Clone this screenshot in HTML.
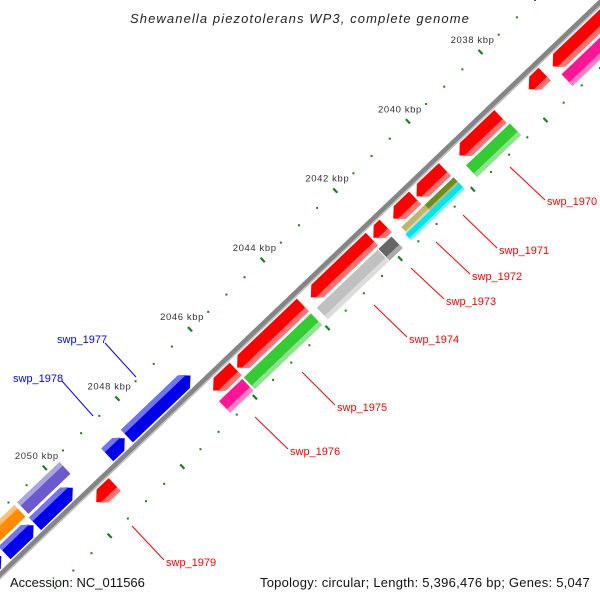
<!DOCTYPE html>
<html><head><meta charset="utf-8"><style>
html,body{margin:0;padding:0;background:#fff;overflow:hidden;width:600px;height:600px;}
svg{display:block;font-family:"Liberation Sans",sans-serif;overflow:hidden;}
</style></head><body>
<svg id="map" width="600" height="600" viewBox="0 0 600 600" xmlns="http://www.w3.org/2000/svg">
<defs><clipPath id="frame"><rect width="600" height="600"/></clipPath></defs>
<rect width="600" height="600" fill="#fff"/>
<g clip-path="url(#frame)">
<g id="ticks"></g>
<g id="backbone"></g>
<g id="features"></g>
<g id="labels"></g>
</g>
<text x="300" y="23" text-anchor="middle" font-size="13" font-style="italic" fill="#222" letter-spacing="1.1">Shewanella piezotolerans WP3, complete genome</text>
<text x="10" y="587" font-size="13" fill="#111">Accession: NC_011566</text>
<text x="590" y="587" text-anchor="end" font-size="13" fill="#111" letter-spacing="0.25">Topology: circular; Length: 5,396,476 bp; Genes: 5,047</text>
</svg>
<script>
// data (kbp)
const majorTicks = [2038, 2040, 2042, 2044, 2046, 2048, 2050];
const tickLabels = ["2038 kbp","2040 kbp","2042 kbp","2044 kbp","2046 kbp","2048 kbp","2050 kbp"];
const redStarts = [2035.0, 2037.38, 2038.60, 2040.13, 2040.95, 2041.76, 2042.14, 2044.04, 2045.89, 2049.22];
const redEnds   = [2037.16, 2037.82, 2039.73, 2040.91, 2041.55, 2042.10, 2043.82, 2045.85, 2046.51, 2049.73];
const innerStarts = [2035.0, 2038.56, 2041.82, 2042.20, 2044.04, 2045.93];
const innerEnds   = [2037.14, 2039.77, 2042.18, 2043.88, 2045.89, 2046.57];
const innerColors = ["#ff1493", "#33cc33", "#666666", "#c0c0c0", "#33cc33", "#ff1493"];
const splitTopStarts = [2040.11, 2040.91];
const splitTopEnds = [2040.91, 2041.55];
const splitTopColors = ["#6b8e23", "#bdb76b"];
const splitBotStarts = [2040.11];
const splitBotEnds = [2041.59];
const blueStarts = [2046.63, 2048.44, 2049.87, 2050.95, 2051.84];
const blueEnds   = [2048.38, 2048.92, 2050.91, 2051.75, 2052.60];
const outerStarts = [2049.71, 2050.95];
const outerEnds = [2050.87, 2051.94];
const outerColors = ["#6a5acd", "#ff8c00"];
const geneLabels = ["swp_1970","swp_1971","swp_1972","swp_1973","swp_1974","swp_1975","swp_1976","swp_1979","swp_1977","swp_1978"];

// geometry
const B0 = {x:513, y:86}, K0 = 2038, PX = 50.2;
const U = {x:-0.7234, y:0.6903}, N = {x:0.6903, y:0.7234};
function P(k, d){ const t=(k-K0)*PX; return [B0.x+U.x*t+N.x*d, B0.y+U.y*t+N.y*d]; }
const NS="http://www.w3.org/2000/svg";
function mk(tag, attrs, parent){ const e=document.createElementNS(NS,tag); for(const a in attrs) e.setAttribute(a,attrs[a]); parent.appendChild(e); return e; }
const pts = arr => arr.map(p=>p[0].toFixed(1)+","+p[1].toFixed(1)).join(" ");
function lighten(c){ const n=parseInt(c.slice(1),16); let r=n>>16,g=(n>>8)&255,b=n&255; r=Math.round(r+(255-r)*0.45); g=Math.round(g+(255-g)*0.45); b=Math.round(b+(255-b)*0.45); return "rgb("+r+","+g+","+b+")"; }

// ticks
const tg=document.getElementById('ticks');
for(let k=2035; k<=2053; k+=0.5){
  const major = Math.abs(k/2-Math.round(k/2))<1e-6;
  [-47,47].forEach(d=>{
    if(major){
      const a=P(k,d-3), b=P(k,d+3);
      const l=mk('line',{x1:a[0],y1:a[1],x2:b[0],y2:b[1],stroke:'#1a801a','stroke-width':2.2},tg);
      
      
    } else {
      const c=P(k,d);
      const r=mk('rect',{x:c[0]-1,y:c[1]-1,width:2,height:2,fill:'#1a801a'},tg);
      
      
    }
  });
}
majorTicks.forEach((k,i)=>{
  const c=P(k,-47);
  const t=mk('text',{x:c[0]-8,y:c[1]-9,'text-anchor':'middle','font-size':9.5,fill:'#333','letter-spacing':0.6},tg);
  t.textContent=tickLabels[i];
  
  
});

// backbone
const bg=document.getElementById('backbone');
const s=P(2034,0), e=P(2054,0), s2=P(2034,2.2), e2=P(2054,2.2);
const bl=mk('line',{x1:s[0],y1:s[1],x2:e[0],y2:e[1],stroke:'#858585','stroke-width':6},bg);


const bl2=mk('line',{x1:s2[0],y1:s2[1],x2:e2[0],y2:e2[1],stroke:'#c8c8c8','stroke-width':1.2},bg);



// features
const fg=document.getElementById('features');
const AH = 9/PX;
function feature(k1,k2,d1,d2,color,arrow,name){
  let poly;
  const ah=Math.min(AH,(k2-k1)*0.6);
  const dm=(d1+d2)/2;
  if(arrow===1) poly=[P(k1,d1),P(k2-ah,d1),P(k2,dm),P(k2-ah,d2),P(k1,d2)];
  else if(arrow===-1) poly=[P(k1+ah,d1),P(k2,d1),P(k2,d2),P(k1+ah,d2),P(k1,dm)];
  else poly=[P(k1,d1),P(k2,d1),P(k2,d2),P(k1,d2)];
  const g=mk('g',{},fg);
  
  
  mk('polygon',{points:pts(poly),fill:color},g);
  const far = d2>0 ? d2 : d1, sh = d2>0 ? d2-(d2-d1)*0.3 : d1+(d2-d1)*0.3;
  let strip;
  if(arrow===1) strip=[P(k1,sh),P(k2-ah*0.3,sh),P(k2-ah,far),P(k1,far)];
  else if(arrow===-1) strip=[P(k1+ah*0.3,sh),P(k2,sh),P(k2,far),P(k1+ah,far)];
  else strip=[P(k1,sh),P(k2,sh),P(k2,far),P(k1,far)];
  mk('polygon',{points:pts(strip),fill:lighten(color)},g);
}
redStarts.forEach((k,i)=>feature(k,redEnds[i],4.5,22,'#ff0000',1,'gene-red'));
innerStarts.forEach((k,i)=>feature(k,innerEnds[i],25,41,innerColors[i],0,'gene-inner'));
splitTopStarts.forEach((k,i)=>feature(k,splitTopEnds[i],25,33,splitTopColors[i],0,'gene-split-top'));
splitBotStarts.forEach((k,i)=>feature(k,splitBotEnds[i],33,41,'#00e5ee',0,'gene-split-bottom'));
blueStarts.forEach((k,i)=>feature(k,blueEnds[i],-22,-4.5,'#0000ee',-1,'gene-blue'));
outerStarts.forEach((k,i)=>feature(k,outerEnds[i],-41,-25,outerColors[i],0,'gene-outer'));

// labels
const lg=document.getElementById('labels');
const labelPos=[[547,205,'#f00',510,167,545,200],[499,254,'#f00',463,215,497,248],[472,280,'#f00',436,242,470,274],[446,305,'#f00',411,268,444,299],[409,343,'#f00',374,305,407,337],[337,411,'#f00',302,372,335,405],[290,455,'#f00',255,417,288,449],[166,566,'#f00',132,526,164,560],[57,343,'#00f',105,343,136,377],[13,382,'#00f',62,381,93,416]];
geneLabels.forEach((txt,i)=>{
  const p=labelPos[i];
  const l=mk('line',{x1:p[3],y1:p[4],x2:p[5],y2:p[6],stroke:p[2],'stroke-width':1},lg);
  
  
  const t=mk('text',{x:p[0],y:p[1],'font-size':11,fill:p[2]},lg);
  t.textContent=txt;
  
  
});
</script>
</body></html>
